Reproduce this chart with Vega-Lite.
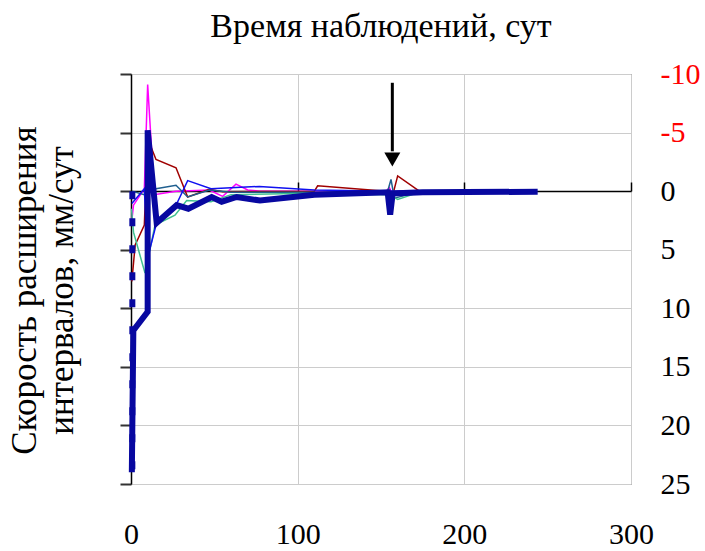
{
  "$schema": "https://vega.github.io/schema/vega-lite/v6.json",
  "width": 500,
  "height": 410,
  "autosize": "none",
  "padding": {"left": 131, "top": 74, "right": 74, "bottom": 67},
  "config": {"view": {"stroke": "#555555", "strokeWidth": 1}, "font": "Liberation Serif"},
  "title": {"text": "Время наблюдений, сут", "fontSize": 34, "font": "Liberation Serif", "fontWeight": "normal", "frame": "group", "anchor": "middle", "baseline": "alphabetic", "offset": -12, "color": "black"},
  "datasets": {
    "thin": [
      {"s":"m","i":0,"x":0.5,"y":2.5},{"s":"m","i":1,"x":1.5,"y":1.2},{"s":"m","i":2,"x":8,"y":-0.2},{"s":"m","i":3,"x":10,"y":-9.1},{"s":"m","i":4,"x":14,"y":0.3},{"s":"m","i":5,"x":27,"y":0},{"s":"m","i":6,"x":47,"y":-0.1},{"s":"m","i":7,"x":55,"y":0.45},{"s":"m","i":8,"x":63,"y":-0.6},{"s":"m","i":9,"x":70,"y":-0.1},{"s":"m","i":10,"x":77,"y":0},{"s":"m","i":11,"x":110,"y":0},{"s":"m","i":12,"x":153,"y":0},{"s":"m","i":13,"x":155,"y":-0.3},{"s":"m","i":14,"x":157,"y":0.3},{"s":"m","i":15,"x":160,"y":0},{"s":"m","i":16,"x":175,"y":0},
      {"s":"r","i":0,"x":0.5,"y":7.7},{"s":"r","i":1,"x":2.5,"y":4.6},{"s":"r","i":2,"x":8,"y":2.9},{"s":"r","i":3,"x":10,"y":-4.5},{"s":"r","i":4,"x":15,"y":-2.7},{"s":"r","i":5,"x":27,"y":-2.0},{"s":"r","i":6,"x":34,"y":0.5},{"s":"r","i":7,"x":47,"y":-0.15},{"s":"r","i":8,"x":55,"y":0.05},{"s":"r","i":9,"x":110,"y":0},{"s":"r","i":10,"x":112,"y":-0.45},{"s":"r","i":11,"x":153,"y":0},{"s":"r","i":12,"x":156,"y":0.9},{"s":"r","i":13,"x":160,"y":-1.3},{"s":"r","i":14,"x":173,"y":0},
      {"s":"t","i":0,"x":0.5,"y":0},{"s":"t","i":1,"x":8,"y":0.3},{"s":"t","i":2,"x":15,"y":-0.2},{"s":"t","i":3,"x":27,"y":-0.5},{"s":"t","i":4,"x":34,"y":0.5},{"s":"t","i":5,"x":47,"y":-0.1},{"s":"t","i":6,"x":60,"y":0.1},{"s":"t","i":7,"x":110,"y":0.1},{"s":"t","i":8,"x":154,"y":0},{"s":"t","i":9,"x":156,"y":-1.0},{"s":"t","i":10,"x":158,"y":0.6},{"s":"t","i":11,"x":175,"y":0},
      {"s":"g","i":0,"x":0.3,"y":1.5},{"s":"g","i":1,"x":1.5,"y":3.5},{"s":"g","i":2,"x":8.4,"y":7},{"s":"g","i":3,"x":14.4,"y":2.9},{"s":"g","i":4,"x":26.4,"y":2.05},{"s":"g","i":5,"x":33.4,"y":0.8},{"s":"g","i":6,"x":48,"y":0.9},{"s":"g","i":7,"x":60,"y":0.3},{"s":"g","i":8,"x":100,"y":0.2},{"s":"g","i":9,"x":155,"y":0.3},{"s":"g","i":10,"x":160,"y":0.7},{"s":"g","i":11,"x":175,"y":0},
      {"s":"b","i":0,"x":0.5,"y":1.05},{"s":"b","i":1,"x":8,"y":-0.2},{"s":"b","i":2,"x":10,"y":5.7},{"s":"b","i":3,"x":15,"y":2.9},{"s":"b","i":4,"x":27,"y":1.2},{"s":"b","i":5,"x":34,"y":-0.9},{"s":"b","i":6,"x":48,"y":-0.2},{"s":"b","i":7,"x":60,"y":-0.3},{"s":"b","i":8,"x":77,"y":-0.4},{"s":"b","i":9,"x":110,"y":-0.1},{"s":"b","i":10,"x":155,"y":0},{"s":"b","i":11,"x":175,"y":0}
    ],
    "thick": [
      {"i":0,"x":0.5,"y":24},{"i":1,"x":1.4,"y":11.9},{"i":2,"x":10,"y":10.3},{"i":3,"x":10,"y":-5.2},{"i":4,"x":15.4,"y":2.7},{"i":5,"x":27.4,"y":1.2},{"i":6,"x":34.4,"y":1.5},{"i":7,"x":48.4,"y":0.5},{"i":8,"x":54.4,"y":0.9},{"i":9,"x":63.4,"y":0.5},{"i":10,"x":77.4,"y":0.8},{"i":11,"x":110,"y":0.3},{"i":12,"x":154,"y":0.1},{"i":13,"x":155.5,"y":2.0},{"i":14,"x":157,"y":0.2},{"i":15,"x":175,"y":0.1},{"i":16,"x":244,"y":0.05}
    ],
    "dash": [{"i":0,"x":0.8,"y":0},{"i":1,"x":0.8,"y":24}],
    "arrow": [{"x":156.8,"y":-9.25,"y2":-3.4}],
    "head": [{"x":156.8,"y":-2.7}]
  },
  "layer": [
    {
      "data": {"name": "thin"},
      "mark": {"type": "line", "strokeWidth": 1.5},
      "encoding": {
        "x": {"field": "x", "type": "quantitative", "scale": {"domain": [0, 300], "nice": false, "zero": false},
          "axis": {"orient": "bottom", "values": [0, 100, 200, 300], "domain": false, "ticks": false, "labelFontSize": 30, "labelFont": "Liberation Serif", "labelColor": "black", "labelPadding": 35, "labelFlush": false, "labelOverlap": false, "grid": true, "gridColor": "#cccccc", "gridWidth": 1, "title": null}},
        "y": {"field": "y", "type": "quantitative", "scale": {"domain": [-10, 25], "reverse": true, "nice": false, "zero": false},
          "axis": {"orient": "left", "values": [-10, -5, 0, 5, 10, 15, 20, 25], "labels": false, "ticks": true, "tickSize": 11, "tickColor": "#333333", "tickWidth": 2, "domain": true, "domainColor": "black", "domainWidth": 1.5, "grid": true, "gridColor": "#cccccc", "gridWidth": 1,
            "title": ["Скорость расширения", "интервалов, мм/сут"], "titleFontSize": 35, "titleFont": "Liberation Serif", "titleFontWeight": "normal", "titleColor": "black", "titlePadding": 40, "titleLineHeight": 37, "titleY": 216}},
        "color": {"field": "s", "type": "nominal", "scale": {"domain": ["m", "r", "t", "g", "b"], "range": ["#FF00FF", "#A00000", "#1F5F8F", "#40C090", "#1010F0"]}, "legend": null},
        "order": {"field": "i", "type": "quantitative"}
      }
    },
    {
      "data": {"name": "thick"},
      "mark": {"type": "line", "strokeWidth": 6, "color": "#0808A0"},
      "encoding": {
        "x": {"field": "x", "type": "quantitative", "scale": {"domain": [0, 300], "nice": false, "zero": false},
          "axis": {"orient": "top", "offset": -117, "values": [100, 200, 300], "labels": false, "ticks": true, "tickSize": 9, "tickColor": "black", "tickWidth": 1.5, "domain": true, "domainColor": "black", "domainWidth": 1.5, "grid": false, "title": null}},
        "y": {"field": "y", "type": "quantitative", "scale": {"domain": [-10, 25], "reverse": true, "nice": false, "zero": false},
          "axis": {"orient": "right", "values": [-10, -5, 0, 5, 10, 15, 20, 25], "ticks": false, "tickSize": 0, "domain": false, "grid": false, "labelFontSize": 30, "labelFont": "Liberation Serif", "labelAlign": "left", "labelBaseline": "middle", "labelPadding": 29, "labelOverlap": false, "labelExpr": "'' + datum.value", "labelColor": {"condition": {"test": "datum.value < 0", "value": "#FF0000"}, "value": "black"}, "title": null}},
        "order": {"field": "i", "type": "quantitative"}
      }
    },
    {
      "data": {"name": "dash"},
      "mark": {"type": "line", "strokeWidth": 6, "color": "#0808A0", "strokeDash": [8, 19]},
      "encoding": {
        "x": {"field": "x", "type": "quantitative", "axis": null},
        "y": {"field": "y", "type": "quantitative", "axis": null},
        "order": {"field": "i", "type": "quantitative"}
      }
    },
    {
      "data": {"name": "arrow"},
      "mark": {"type": "rule", "strokeWidth": 3, "color": "black"},
      "encoding": {
        "x": {"field": "x", "type": "quantitative", "axis": null},
        "y": {"field": "y", "type": "quantitative", "axis": null},
        "y2": {"field": "y2"}
      }
    },
    {
      "data": {"name": "head"},
      "mark": {"type": "point", "shape": "triangle-down", "size": 256, "filled": true, "color": "black", "opacity": 1},
      "encoding": {
        "x": {"field": "x", "type": "quantitative", "axis": null},
        "y": {"field": "y", "type": "quantitative", "axis": null}
      }
    }
  ],
  "resolve": {"axis": {"x": "independent", "y": "independent"}}
}
